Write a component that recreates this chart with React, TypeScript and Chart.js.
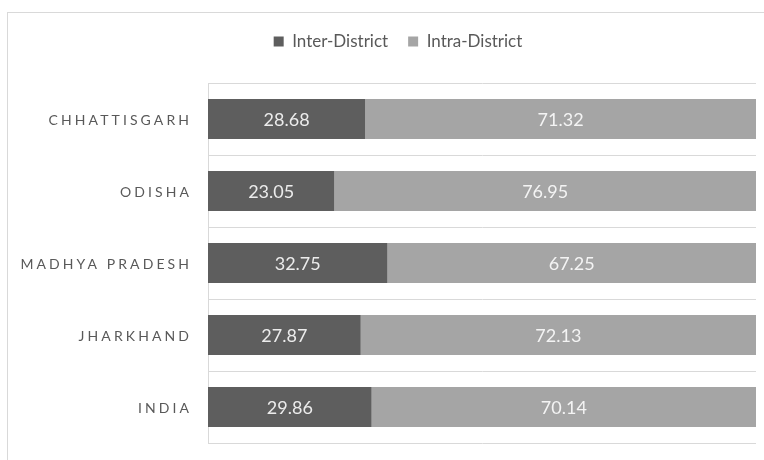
import React, { useEffect, useRef } from "react";
import { Chart, registerables } from "chart.js";

Chart.register(...registerables);

const categories = ["CHHATTISGARH", "ODISHA", "MADHYA PRADESH", "JHARKHAND", "INDIA"];
const interDistrict = [28.68, 23.05, 32.75, 27.87, 29.86];
const intraDistrict = [71.32, 76.95, 67.25, 72.13, 70.14];
const seriesNames = ["Inter-District", "Intra-District"];

const DARK = "#5e5e5e";
const LIGHT = "#a5a5a5";
const TEXT = "#595959";
const GRID = "#d9d9d9";
const FONT = "Lato, 'Liberation Sans', sans-serif";

const legendSpacing = {
  id: "legendSpacing",
  beforeInit(chart: any) {
    const legend = chart.legend;
    if (!legend) return;
    const orig = legend.fit;
    legend.fit = function () {
      orig.call(this);
      this.height += 23;
    };
  },
};

const valueLabels = {
  id: "valueLabels",
  afterDatasetsDraw(chart: any) {
    const ctx = chart.ctx;
    ctx.save();
    ctx.font = "18px " + FONT;
    ctx.textAlign = "center";
    ctx.textBaseline = "middle";
    chart.data.datasets.forEach((ds: any, di: number) => {
      const meta = chart.getDatasetMeta(di);
      meta.data.forEach((el: any, i: number) => {
        const v = ds.data[i];
        const cx = (el.x + el.base) / 2;
        ctx.fillStyle = di === 0 ? "#ececec" : "#f4f4f4";
        ctx.fillText(v.toFixed(2), cx, el.y + 1);
      });
    });
    ctx.restore();
  },
};

const spacedCategoryLabels = {
  id: "spacedCategoryLabels",
  afterDraw(chart: any) {
    const scale = chart.scales.y;
    const ctx = chart.ctx;
    const ls = 3.1;
    ctx.save();
    ctx.font = "14px " + FONT;
    (ctx as any).letterSpacing = ls + "px";
    ctx.fillStyle = TEXT;
    ctx.textAlign = "right";
    ctx.textBaseline = "middle";
    scale.ticks.forEach((_t: any, i: number) => {
      const y = scale.getPixelForTick(i);
      ctx.fillText(String(chart.data.labels[i]), scale.right - 19 + ls, y + 1);
    });
    ctx.restore();
  },
};

const LEFT_PAD = 40;

export default function App() {
  const ref = useRef<HTMLCanvasElement | null>(null);

  useEffect(() => {
    if (!ref.current) return;
    const chart = new Chart(ref.current, {
      type: "bar",
      data: {
        labels: categories,
        datasets: [
          {
            label: seriesNames[0],
            data: interDistrict,
            backgroundColor: DARK,
            borderWidth: 0,
            categoryPercentage: 1,
            barPercentage: 0.555,
          },
          {
            label: seriesNames[1],
            data: intraDistrict,
            backgroundColor: LIGHT,
            borderWidth: 0,
            categoryPercentage: 1,
            barPercentage: 0.555,
          },
        ],
      },
      options: {
        indexAxis: "y",
        responsive: false,
        animation: false,
        devicePixelRatio: 1,
        layout: { padding: { left: LEFT_PAD, right: 8, top: 13, bottom: 17 } },
        plugins: {
          legend: {
            position: "top",
            labels: {
              boxWidth: 10,
              boxHeight: 10,
              padding: 20,
              color: TEXT,
              font: { family: FONT, size: 17 },
            },
          },
          tooltip: { enabled: false },
        },
        scales: {
          x: {
            stacked: true,
            display: false,
            min: 0,
            max: 100,
          },
          y: {
            stacked: true,
            afterFit: (s: any) => {
              s.width = 208 - LEFT_PAD;
            },
            ticks: { display: false },
            grid: { color: GRID, offset: true, drawTicks: false, lineWidth: 1 },
            border: { display: true, color: GRID, width: 1 },
          },
        },
      },
      plugins: [legendSpacing, valueLabels, spacedCategoryLabels],
    });
    return () => chart.destroy();
  }, []);

  return (
    <div
      style={{
        position: "fixed",
        left: 0,
        top: 0,
        width: 764,
        height: 460,
        overflow: "hidden",
        background: "#ffffff",
      }}
    >
      <div
        style={{
          position: "absolute",
          left: 7,
          top: 12,
          width: 900,
          height: 600,
          borderTop: "1px solid " + GRID,
          borderLeft: "1px solid " + GRID,
        }}
      />
      <canvas
        ref={ref}
        width={764}
        height={460}
        style={{ position: "absolute", left: 0, top: 0, width: 764, height: 460 }}
      />
    </div>
  );
}
